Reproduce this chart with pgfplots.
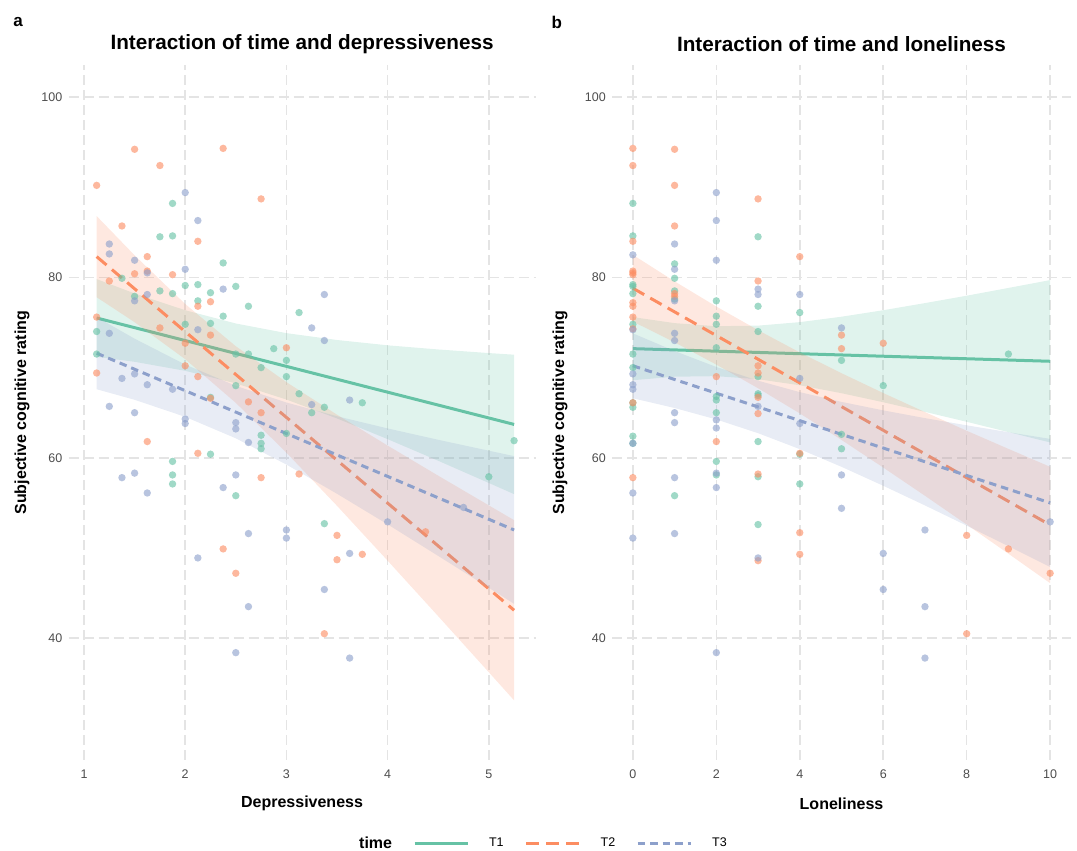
\documentclass[border=0pt]{standalone}
\usepackage{pgfplots}
\pgfplotsset{compat=1.18}
\usepackage{fontspec}
\setmainfont{Liberation Sans}
\definecolor{cA}{HTML}{66C2A5}
\definecolor{cB}{HTML}{FC8D62}
\definecolor{cC}{HTML}{8DA0CB}
\definecolor{tickgray}{HTML}{4D4D4D}
\definecolor{gridgray}{RGB}{228,228,228}
\pgfplotsset{
  panel/.style={
    scale only axis, anchor=south west,
    height=694.6bp, ymin=26.5, ymax=103.5, ytick={40,60,80,100},
    axis line style={draw=none}, major tick length=0pt,
    xmajorgrids, ymajorgrids,
    major grid style={gridgray, line width=1.5bp, dash pattern=on 10bp off 5bp},
    /pgf/number format/assume math mode=true,
    tick label style={font=\fontsize{12.5bp}{14bp}\selectfont, text=tickgray},
    xticklabel style={inner sep=0pt, anchor=north, yshift=-10bp},
    yticklabel style={inner sep=0pt, anchor=east, xshift=-6bp},
    title style={font=\bfseries\fontsize{20.7bp}{24bp}\selectfont, at={(axis description cs:0.5,1.0225)}, anchor=center},
    every axis x label/.style={at={(axis description cs:0.5,-0.063)}, anchor=center, font=\bfseries\fontsize{16bp}{18bp}\selectfont},
    clip=false,
  },
  pt/.style={only marks, mark=*, mark size=3.7bp, forget plot, color=#1, mark options={draw opacity=0, fill=#1, fill opacity=0.62}},
  band/.style={fill=#1, fill opacity=0.2, draw=none, forget plot},
  lA/.style={cA, line width=3bp, forget plot},
  lB/.style={cB, line width=3bp, dash pattern=on 13bp off 7bp, forget plot},
  lC/.style={cC, line width=3bp, dash pattern=on 7.5bp off 5bp, forget plot},
}
\begin{document}
\begin{tikzpicture}
\path[use as bounding box] (0,0) rectangle (1077bp,851bp);
% ---------------- panel a ----------------
\begin{axis}[panel, at={(68.5bp,91bp)}, width=467.1bp,
  xmin=0.8468, xmax=5.4625, xtick={1,2,3,4,5},
  title={Interaction of time and depressiveness},
  xlabel={Depressiveness}, ylabel={Subjective cognitive rating},
  every axis y label/.style={at={(axis description cs:-0.0995,0.5)}, rotate=90, anchor=center, font=\bfseries\fontsize{16bp}{18bp}\selectfont},
  legend columns=-1,
  legend style={draw=none, fill=none, at={(axis description cs:0.5727,-0.1195)}, anchor=west,
    font=\fontsize{12.5bp}{14bp}\selectfont,
    /tikz/every even column/.append style={column sep=19bp},
    /tikz/every odd column/.append style={column sep=18bp}},
  legend image code/.code={\draw[#1] (0bp,0bp) -- (53bp,0bp);},
]
\addplot[pt=cA] coordinates {(1.875,88.2) (1.75,84.5) (1.875,84.6) (2.375,81.6) (1.375,79.9) (2,79.1) (2.125,79.2) (2.5,79.0) (1.75,78.5) (1.875,78.2) (2.25,78.3) (1.5,77.9) (2.125,77.4) (2.375,75.7) (2.625,76.8) (3.125,76.1) (1.125,74.0) (2,74.8) (2.25,74.9) (1.125,71.5) (2.5,71.5) (2.625,71.5) (2.875,72.1) (3,70.8) (2.75,70.0) (3,69.0) (2.25,66.7) (2.5,68.0) (3.25,65.0) (3.125,67.1) (2.75,62.5) (2.75,61.6) (2.75,61.0) (3,62.7) (2.25,60.4) (1.875,59.6) (1.875,58.1) (1.875,57.1) (2.5,55.8) (3.375,65.6) (3.75,66.1) (5.25,61.9) (5,57.9) (3.375,52.7)};
\addplot[pt=cB] coordinates {(1.125,90.2) (1.5,94.2) (1.75,92.4) (2.375,94.3) (2.75,88.7) (1.375,85.7) (2.125,84.0) (1.625,82.3) (1.5,80.4) (1.625,80.7) (1.875,80.3) (1.25,79.6) (2.125,76.8) (2.25,77.3) (1.125,75.6) (1.75,74.4) (2.25,73.6) (2,72.7) (2,70.2) (1.125,69.4) (2.125,69.0) (3,72.2) (2.25,66.6) (2.625,66.2) (2.75,65.0) (1.625,61.8) (2.125,60.5) (2.75,57.8) (3.125,58.2) (2.375,49.9) (2.5,47.2) (4.375,51.8) (3.5,51.4) (3.5,48.7) (3.75,49.3) (3.375,40.5)};
\addplot[pt=cC] coordinates {(2,89.4) (2.125,86.3) (1.25,83.7) (1.25,82.6) (1.5,81.9) (1.625,80.5) (2,80.9) (2.375,78.7) (1.625,78.1) (1.5,77.4) (3.25,74.4) (1.25,73.8) (2.125,74.2) (1.375,68.8) (1.5,69.3) (3.375,78.1) (3.375,73.0) (1.625,68.1) (1.875,67.6) (3.25,65.9) (1.25,65.7) (1.5,65.0) (2,64.3) (2,63.8) (2.5,63.9) (2.5,63.2) (2.625,61.7) (1.375,57.8) (1.5,58.3) (1.625,56.1) (2.5,58.1) (2.375,56.7) (2.625,51.6) (3,52.0) (3,51.1) (2.125,48.9) (2.625,43.5) (2.5,38.4) (3.625,66.4) (4.75,54.5) (4,52.9) (3.625,49.4) (3.375,45.4) (3.625,37.8)};
% T1 band + line
\addplot[band=cA] coordinates {(1.125,79.81) (1.5,78.22) (2,76.36) (2.5,74.89) (3,73.82) (3.5,73.06) (4,72.47) (4.5,72.01) (5,71.61) (5.25,71.43)
  (5.25,55.97) (5,57.21) (4.5,59.67) (4,62.07) (3.5,64.36) (3,66.46) (2.5,68.25) (2,69.64) (1.5,70.64) (1.125,71.19)} -- cycle;
\addplot[lA] coordinates {(1.125,75.5) (5.25,63.7)};
% T2 band + line
\addplot[band=cB] coordinates {(1.125,86.80) (1.5,82.45) (2,77.05) (2.5,72.37) (3,68.39) (3.5,64.78) (4,61.36) (4.5,58.02) (5,54.73) (5.25,53.09)
  (5.25,33.11) (5,36.23) (4.5,42.44) (4,48.60) (3.5,54.68) (3,60.57) (2.5,66.09) (2,70.93) (1.5,75.03) (1.125,77.80)} -- cycle;
\addplot[lB] coordinates {(1.125,82.3) (5.25,43.1)};
% T3 band + line
\addplot[band=cC] coordinates {(1.125,75.60) (1.5,73.21) (2,70.34) (2.5,67.98) (3,66.13) (3.5,64.61) (4,63.26) (4.5,62.00) (5,60.79) (5.25,60.19)
  (5.25,43.81) (5,45.59) (4.5,49.12) (4,52.62) (3.5,56.01) (3,59.25) (2.5,62.16) (2,64.54) (1.5,66.43) (1.125,67.60)} -- cycle;
\addplot[lC] coordinates {(1.125,71.6) (5.25,52.0)};
% legend
\addlegendimage{empty legend}
\addlegendentry{\bfseries\fontsize{16bp}{18bp}\selectfont time}
\addlegendimage{cA, line width=3bp}
\addlegendentry{T1}
\addlegendimage{cB, line width=3bp, dash pattern=on 13bp off 7bp}
\addlegendentry{T2}
\addlegendimage{cC, line width=3bp, dash pattern=on 7.5bp off 5bp}
\addlegendentry{T3}
\node[font=\bfseries\fontsize{17bp}{20bp}\selectfont, anchor=center] at (axis description cs:-0.108,1.062) {a};
\end{axis}
% ---------------- panel b ----------------
\begin{axis}[panel, at={(612bp,91bp)}, width=459bp,
  xmin=-0.5, xmax=10.5, xtick={0,2,4,6,8,10},
  title={Interaction of time and loneliness},
  xlabel={Loneliness}, ylabel={Subjective cognitive rating},
  every axis y label/.style={at={(axis description cs:-0.113,0.5)}, rotate=90, anchor=center, font=\bfseries\fontsize{16bp}{18bp}\selectfont},
]
\addplot[pt=cA] coordinates {(0,88.2) (0,84.6) (0,79.2) (0,79.0) (0,78.2) (0,74.8) (0,71.5) (0,70.0) (0,66.1) (0,65.6) (0,62.4) (0,61.6)
 (1,81.5) (1,79.9) (1,78.5) (1,77.6) (1,55.8)
 (2,77.4) (2,75.7) (2,74.8) (2,72.2) (2,66.8) (2,66.4) (2,65.0) (2,59.6) (2,58.1)
 (3,84.5) (3,76.8) (3,74.0) (3,69.0) (3,67.1) (3,66.9) (3,61.8) (3,57.9) (3,52.6)
 (4,76.1) (4,60.4) (4,57.1) (5,70.8) (5,62.6) (5,61.0) (6,68.0) (9,71.5)};
\addplot[pt=cB] coordinates {(0,94.3) (0,92.4) (0,84.0) (0,80.7) (0,80.5) (0,80.3) (0,77.2) (0,76.8) (0,75.6) (0,74.3) (0,66.1) (0,57.8)
 (1,94.2) (1,90.2) (1,85.7) (1,78.2) (1,77.9)
 (2,69.0) (2,61.8)
 (3,88.7) (3,79.6) (3,70.2) (3,69.4) (3,66.7) (3,64.9) (3,58.2) (3,48.6)
 (4,82.3) (4,60.5) (4,51.7) (4,49.3) (5,73.6) (5,72.1) (6,72.7) (8,51.4) (8,40.5) (9,49.9) (10,47.2)};
\addplot[pt=cC] coordinates {(0,82.5) (0,74.2) (0,69.3) (0,68.1) (0,67.6) (0,61.6) (0,56.1) (0,51.1)
 (1,83.7) (1,80.9) (1,77.4) (1,73.8) (1,73.0) (1,65.0) (1,63.9) (1,57.8) (1,51.6)
 (2,89.4) (2,86.3) (2,81.9) (2,64.2) (2,63.3) (2,58.3) (2,56.7) (2,38.4)
 (3,78.7) (3,78.1) (3,65.7) (3,48.9) (4,78.1) (4,68.8) (4,63.8)
 (5,74.4) (5,58.1) (5,54.4) (6,49.4) (6,45.4) (7,52.0) (7,43.5) (7,37.8) (10,52.9)};
\addplot[band=cA] coordinates {(0,75.60) (1,74.93) (2,74.59) (3,74.65) (4,75.04) (5,75.64) (6,76.36) (7,77.15) (8,77.97) (9,78.83) (10,79.70)
 (10,61.70) (9,62.85) (8,63.99) (7,65.09) (6,66.16) (5,67.16) (4,68.04) (3,68.71) (2,69.05) (1,68.99) (0,68.60)} -- cycle;
\addplot[lA] coordinates {(0,72.1) (10,70.7)};
\addplot[band=cB] coordinates {(0,82.50) (1,79.56) (2,76.77) (3,74.15) (4,71.68) (5,69.38) (6,67.18) (7,65.07) (8,63.00) (9,60.99) (10,59.00)
 (10,46.10) (9,49.37) (8,52.60) (7,55.79) (6,58.92) (5,61.98) (4,64.92) (3,67.71) (2,70.33) (1,72.80) (0,75.10)} -- cycle;
\addplot[lB] coordinates {(0,78.8) (10,52.55)};
\addplot[band=cC] coordinates {(0,73.80) (1,71.84) (2,70.07) (3,68.55) (4,67.28) (5,66.20) (6,65.26) (7,64.40) (8,63.60) (9,62.84) (10,62.10)
 (10,47.90) (9,50.20) (8,52.48) (7,54.72) (6,56.90) (5,59.00) (4,60.96) (3,62.73) (2,64.25) (1,65.52) (0,66.60)} -- cycle;
\addplot[lC] coordinates {(0,70.2) (10,55.0)};
\node[font=\bfseries\fontsize{17bp}{20bp}\selectfont, anchor=center] at (axis description cs:-0.120,1.062) {b};
\end{axis}
\end{tikzpicture}
\end{document}
